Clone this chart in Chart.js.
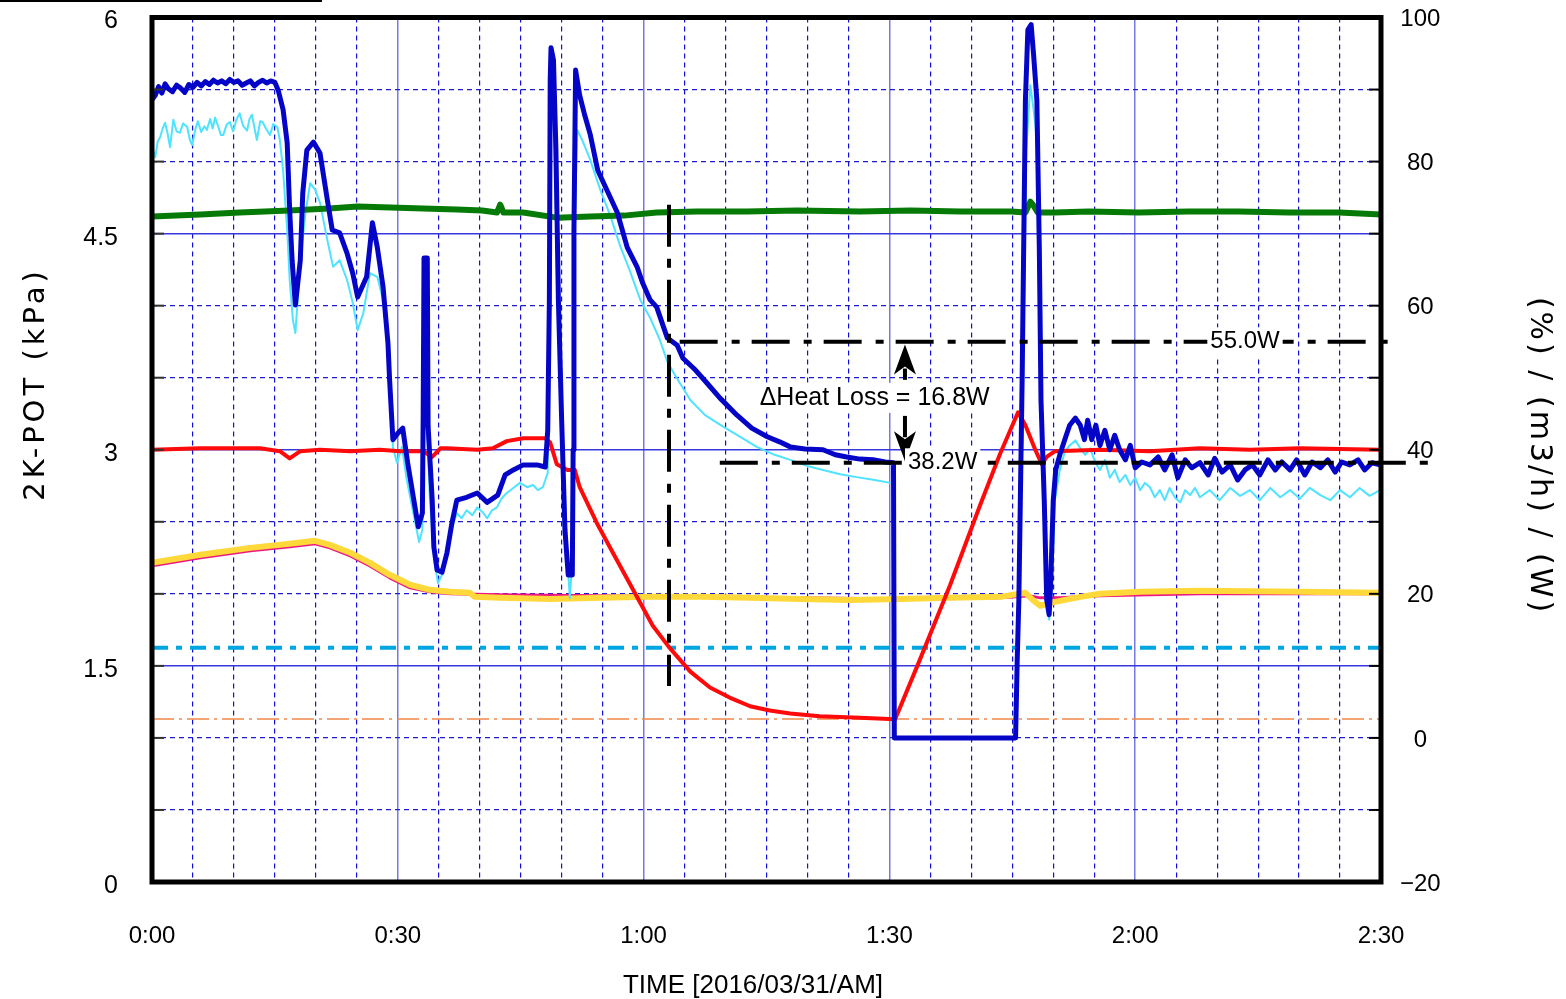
<!DOCTYPE html>
<html lang="ja">
<head>
<meta charset="UTF-8">
<title>2K-POT Heat Loss</title>
<script src="https://cdn.jsdelivr.net/npm/chart.js"></script>
<style>
  html, body { margin: 0; padding: 0; background: #fff; }
  #wrap { position: relative; width: 1566px; height: 999px; }
  #cornerLine { position: absolute; left: 0; top: 0; width: 322px; height: 2px; background: #000; }
</style>
</head>
<body>
<div id="wrap">
  <canvas id="chart"></canvas>
  <div id="cornerLine"></div>
</div>
<script>
// time in minutes from 0:00
const xTickLabels = ['0:00', '0:30', '1:00', '1:30', '2:00', '2:30'];
const leftTickLabels = ['0', '1.5', '3', '4.5', '6'];

// heater power (W, right axis) - thick blue
const blueT = [0,0.4,0.8,1.2,1.6,2.0,2.5,3.0,3.5,4.0,4.5,5.0,5.5,6.0,6.5,7.0,7.5,8.0,8.5,9.0,9.5,10.0,10.5,11.0,11.5,12.0,12.5,13.0,13.5,14.0,14.5,15.0,
  15.4,16.0,16.5,16.8,17.1,17.5,18.1,18.4,18.9,19.7,20.5,21.4,22.0,22.9,23.8,24.5,25.1,26.2,26.9,27.5,
  28.2,28.8,29.0,29.4,30.0,30.6,31.2,31.9,32.5,33.0,33.1,33.2,33.6,33.7,34.2,34.4,34.8,35.4,36.0,36.6,
  37.2,38.4,39.7,40.9,42.2,43.1,44.1,45.3,47.0,48.0,48.3,48.5,48.6,48.7,49.0,49.3,49.6,50.0,50.4,50.8,
  51.3,51.4,51.5,51.7,52.2,52.8,53.5,54.4,55.5,56.8,58.0,59.2,59.9,60.8,61.6,62.9,64.1,64.8,66.3,67.7,
  69.3,71.4,73.2,75.1,76.6,77.9,79.7,81.9,83.4,84.8,86.4,88.0,89.5,90.5,90.6,
  105.4,105.6,105.8,106.2,106.6,106.9,107.3,107.6,108.0,108.3,108.5,108.9,109.2,109.5,109.7,110.0,110.3,110.8,111.4,112.0,
  112.7,113.3,113.8,114.2,114.7,115.2,115.7,116.3,116.9,117.5,118.1,118.8,119.4,120.0,120.8,121.8,122.8,123.6,124.5,125.2,
  126.1,126.9,127.9,128.9,129.7,130.6,131.6,132.5,133.4,134.3,135.2,136.2,137.1,137.9,138.9,139.7,140.7,141.6,142.6,143.5,
  144.4,145.2,146.2,147.2,148.0,148.9,149.9];
const blueW = [88.6,89.2,90.4,89.5,90.8,90.1,89.7,90.6,90.2,89.6,90.7,90.3,91.0,90.5,91.1,90.7,91.3,90.9,91.2,90.8,91.4,91.0,91.2,90.6,90.9,91.2,90.5,91.0,91.3,90.9,91.2,91.0,
  89.9,87.2,82.6,73.3,66.3,60.1,66.3,75.6,81.6,82.7,81.2,74.7,70.5,70.1,67.3,64.5,61.2,64.0,71.5,68.1,
  62.6,54.8,49.7,41.4,42.3,43.0,38.2,33.4,29.3,31.2,45.1,66.6,66.6,43.2,33.0,26.5,23.3,23.0,25.7,29.8,
  33.0,33.4,34.0,32.7,33.7,36.5,37.2,37.9,37.9,37.6,42.7,60.8,91.3,95.8,94.1,81.6,60.8,44.1,28.9,22.6,
  22.6,40.0,70.5,92.7,89.2,86.5,83.7,78.8,76.1,72.9,68.1,65.4,63.1,60.8,59.8,55.5,54.5,52.7,51.1,49.3,
  47.2,44.8,43.0,41.8,41.1,40.4,40.1,40.0,39.3,39.0,38.7,38.6,38.3,38.2,0,
  0,10.8,19.2,49.7,88.5,98.3,99.0,94.8,88.5,67.7,46.9,33.0,19.2,17.1,21.9,33.0,37.2,39.3,41.4,43.4,
  44.4,43.4,41.4,44.1,41.4,43.4,40.6,42.7,40.0,42.0,40.0,38.6,40.6,37.5,38.3,37.9,39.0,37.2,39.3,36.1,
  38.6,37.5,38.2,36.5,38.8,36.9,37.9,35.8,37.2,37.9,36.5,38.6,37.2,38.3,37.2,38.6,36.5,38.3,37.5,38.6,
  36.9,38.3,37.9,38.6,37.2,38.2,37.9];

// second power trace (W, right axis) - thin cyan, null = no data
const cyanT = [0,0.4,0.7,1.0,1.3,1.6,1.9,2.2,2.6,3.0,3.4,3.8,4.3,4.6,4.9,5.3,5.6,6.0,6.4,6.7,
  7.1,7.4,7.7,8.1,8.4,8.7,9.1,9.5,9.9,10.3,10.7,11.1,11.6,11.9,12.2,12.5,12.8,13.2,13.5,13.9,14.4,14.8,15.3,15.6,
  16.0,16.5,16.8,17.2,17.5,18.1,18.7,19.3,19.9,20.5,21.4,22.1,22.9,23.8,24.5,25.1,25.8,26.6,27.5,28.2,
  28.8,29.4,29.9,30.5,31.1,31.9,32.6,33.0,33.2,33.6,33.9,34.5,34.9,35.5,36.4,37.2,37.8,38.4,39.1,39.7,
  40.3,40.9,41.5,42.1,42.7,43.3,44.1,44.9,45.8,46.5,47.1,47.7,48.3,48.6,48.7,49.0,49.6,50.2,50.7,51.0,
  51.3,51.5,51.9,52.5,53.5,54.7,55.9,57.1,58.3,59.6,60.8,62.0,62.9,63.8,65.7,67.5,69.7,71.8,73.8,76.0,
  77.9,80.1,81.9,84.0,86.0,88.2,90.1,98.0,
  106.2,106.7,107.2,107.6,108.0,108.3,108.6,109.1,109.5,109.8,110.2,110.8,111.4,112.0,112.7,113.3,113.9,114.5,115.1,115.7,
  116.3,116.9,117.5,118.1,118.8,119.4,120.0,120.6,121.2,121.8,122.4,123.0,123.6,124.2,124.9,125.5,126.1,126.7,127.3,127.9,
  129.1,130.3,131.6,132.8,134.0,135.2,136.5,137.7,138.9,140.1,141.3,142.6,143.8,145.0,146.2,147.4,148.6,149.9];
const cyanW = [82.0,80.6,82.8,83.4,84.6,85.4,83.9,82.0,85.8,84.2,84.0,85.3,84.8,83.1,82.3,84.5,85.6,84.1,84.9,84.4,
  85.9,84.6,86.1,84.8,83.7,83.7,85.1,85.5,84.2,85.8,86.7,85.0,84.3,85.9,86.5,84.7,83.0,85.6,85.5,84.6,83.7,85.2,84.8,83.0,
  78.8,70.5,63.6,58.0,56.2,66.1,72.6,77.0,76.1,74.3,69.1,65.4,66.3,63.6,60.4,56.6,59.0,64.5,64.0,60.8,
  54.3,40.4,38.2,40.4,35.8,31.2,27.2,28.9,44.1,42.7,33.4,24.3,21.5,22.9,28.4,31.2,30.5,31.6,30.9,32.0,
  31.4,30.5,31.6,32.0,33.3,34.0,34.7,35.4,34.8,35.1,34.4,34.8,36.8,75.0,87.2,85.8,60.8,40.0,24.7,19.4,
  24.7,67.7,84.4,83.0,80.2,76.1,72.6,68.4,64.9,60.8,58.3,55.2,52.2,50.4,46.9,44.8,43.2,41.8,40.4,39.3,
  38.6,37.7,37.2,36.6,36.2,35.8,35.4,null,
  40.0,81.6,90.6,87.2,83.0,60.8,40.0,23.3,16.4,20.5,33.0,37.2,39.7,40.6,41.3,40.2,39.3,40.2,38.3,37.2,
  38.6,36.1,37.2,35.5,36.5,35.1,36.1,34.4,35.4,34.8,33.4,34.4,33.0,34.7,33.3,32.7,34.4,33.7,34.7,33.4,
  34.4,33.0,34.7,33.6,34.4,33.0,34.7,33.4,34.4,33.2,34.7,33.7,33.0,34.4,33.4,34.7,33.6,34.4];

// red trace (left axis)
const redT = [0,5.9,13.2,15.6,16.8,18.1,20.5,24.2,27.8,30.3,33.1,34.2,35.2,36.0,39.7,41.6,43.3,45.3,48.0,48.6,
  49.4,50.7,51.6,52.2,54.3,56.3,58.7,61.1,63.1,65.7,68.1,70.5,73.0,75.4,77.9,81.5,86.4,90.7,
  93.7,97.4,101.1,103.5,105.7,106.6,107.8,108.6,109.2,110.2,115.7,121.8,127.9,134.0,140.1,149.9];
const redV = [3.00,3.01,3.01,2.99,2.94,2.99,3.00,2.99,3.00,2.99,2.99,2.95,3.01,3.01,3.00,3.01,3.06,3.08,3.08,3.05,
  2.90,2.86,2.86,2.74,2.49,2.28,2.03,1.78,1.63,1.46,1.35,1.28,1.22,1.19,1.17,1.15,1.14,1.13,
  1.54,2.06,2.62,2.97,3.26,3.17,3.00,2.90,2.95,2.99,3.00,2.99,3.01,3.00,3.01,3.00];

// 2K-POT pressure (kPa, left axis) - green
const greenT = [0,5.9,10.7,16.8,21.6,25.1,29.1,33.1,37.2,40.3,42.1,42.5,42.9,45.3,49.4,53.5,57.6,61.6,66.5,72.6,
  78.7,86.4,92.6,98.7,104.9,106.6,107.2,107.6,108.1,110.2,114.3,120.4,126.5,132.6,138.8,144.9,150];
const greenV = [4.618,4.632,4.646,4.660,4.674,4.688,4.681,4.674,4.667,4.660,4.646,4.701,4.646,4.646,4.611,4.618,4.625,4.646,4.653,4.653,
  4.660,4.653,4.660,4.653,4.653,4.646,4.722,4.694,4.646,4.646,4.653,4.646,4.653,4.653,4.646,4.646,4.632];

// yellow and magenta traces (left axis)
const yellowT = [0,5.9,12.0,16.8,19.9,21.7,24.2,26.6,29.0,31.5,33.9,36.4,38.8,39.4,42.5,48.6,54.7,60.8,66.9,73.0,
  79.1,85.2,91.3,97.4,103.5,105.9,106.6,107.5,108.4,109.2,110.8,113.3,115.7,120.6,127.9,140.1,149.9];
const yellowV = [2.215,2.271,2.319,2.347,2.368,2.340,2.285,2.215,2.132,2.063,2.028,2.014,2.007,1.979,1.972,1.965,1.972,1.979,1.979,1.972,
  1.965,1.958,1.965,1.972,1.979,2.000,2.007,1.958,1.917,1.931,1.951,1.979,2.000,2.014,2.021,2.014,2.007];
const magentaT = [0,5.9,12.0,16.8,19.9,21.7,24.2,26.6,29.0,31.5,33.9,36.4,42.5,54.7,66.9,79.1,91.3,103.5,107.2,108.4,
  110.8,115.7,127.9,140.1,149.9];
const magentaV = [2.194,2.250,2.299,2.326,2.347,2.319,2.264,2.194,2.111,2.042,2.014,2.000,1.993,1.986,1.979,1.972,1.965,1.972,1.986,1.972,
  1.972,1.986,2.000,2.000,2.000];

// constant reference lines (left axis)
const cyanRefLevel = 1.625;
const orangeRefLevel = 1.132;

// heat loss annotation (W, right axis)
const heatHigh = 55.0;
const heatLow = 38.2;
const markerT = 63.1;            // vertical dash-dot marker
const markerSpan = [4.70, 1.36]; // left axis
const highLineT = [64.4, 152.1];
const lowLineT = [69.3, 157.0];
const arrowT = 91.9;
const arrowUp = [49.7, 54.6];
const arrowDown = [44.7, 38.4];
const heatLabel = { t: 88.2, v: 47.2, text: 'ΔHeat Loss = 16.8W' };
const highLabel = { t: 133.4, v: heatHigh, text: '55.0W' };
const lowLabel = { t: 96.5, v: heatLow, text: '38.2W' };

const pts = (ts, vs) => ts.map((t, i) => ({ x: t, y: vs[i] }));
const FONT = 'Liberation Sans, Arial, sans-serif';
const WIDE = 'DejaVu Sans, Liberation Sans, sans-serif';

function line(ctx, x1, y1, x2, y2) {
  ctx.beginPath(); ctx.moveTo(x1, y1); ctx.lineTo(x2, y2); ctx.stroke();
}
function boxLabel(ctx, text, x, y, size) {
  ctx.font = size + 'px ' + FONT;
  const w = ctx.measureText(text).width;
  ctx.fillStyle = '#fff';
  ctx.fillRect(x - w / 2 - 3, y - size * 0.6, w + 6, size * 1.2);
  ctx.fillStyle = '#000';
  ctx.textAlign = 'center';
  ctx.textBaseline = 'middle';
  ctx.fillText(text, x, y);
}
function arrow(ctx, x, yFrom, yTip) {
  const dir = yTip < yFrom ? 1 : -1;   // 1 = pointing up
  const head = 30;
  ctx.lineWidth = 4;
  line(ctx, x, yFrom, x, yTip + dir * (head - 6));
  ctx.beginPath();
  ctx.moveTo(x, yTip);
  ctx.lineTo(x - 11, yTip + dir * head);
  ctx.lineTo(x, yTip + dir * (head - 8));
  ctx.lineTo(x + 11, yTip + dir * head);
  ctx.closePath();
  ctx.fill();
}
function vTitle(ctx, text, x, y, angle, size, spacing) {
  ctx.save();
  ctx.fillStyle = '#000';
  ctx.textAlign = 'center';
  ctx.textBaseline = 'middle';
  ctx.font = size + 'px ' + WIDE;
  ctx.letterSpacing = spacing + 'px';
  ctx.translate(x, y);
  ctx.rotate(angle);
  ctx.fillText(text, 0, 0);
  ctx.restore();
}

const overlay = {
  id: 'overlay',
  afterDatasetsDraw(chart) {
    const { ctx, chartArea: a, scales } = chart;
    const xs = scales.x, yL = scales.y, yR = scales.yR;
    ctx.save();
    // inward tick marks
    ctx.strokeStyle = '#000';
    ctx.lineWidth = 2;
    yR.ticks.forEach(t => { const y = yR.getPixelForValue(t.value); line(ctx, a.right - 12, y, a.right, y); });
    ctx.strokeStyle = '#333';
    yL.ticks.forEach(t => { const y = yL.getPixelForValue(t.value); line(ctx, a.left, y, a.left + 12, y); });
    // frame
    ctx.strokeStyle = '#000';
    ctx.lineWidth = 5;
    ctx.strokeRect(a.left, a.top, a.right - a.left, a.bottom - a.top);
    // arrows
    ctx.fillStyle = '#000';
    const ax = xs.getPixelForValue(arrowT);
    arrow(ctx, ax, yR.getPixelForValue(arrowUp[0]), yR.getPixelForValue(arrowUp[1]));
    arrow(ctx, ax, yR.getPixelForValue(arrowDown[0]), yR.getPixelForValue(arrowDown[1]));
    // labels
    [heatLabel, highLabel, lowLabel].forEach((l, i) => {
      boxLabel(ctx, l.text, xs.getPixelForValue(l.t), yR.getPixelForValue(l.v), i === 0 ? 25 : 24);
    });
    ctx.restore();
  },
  afterDraw(chart) {
    const { ctx } = chart;
    vTitle(ctx, '2K-POT (kPa)', 36, 384, -Math.PI / 2, 29, 4);
    vTitle(ctx, '(%) / (m3/h) / (W)', 1539, 456, Math.PI / 2, 30, 3);
    ctx.save();
    ctx.fillStyle = '#000';
    ctx.textAlign = 'center';
    ctx.textBaseline = 'middle';
    ctx.font = '26px ' + FONT;
    ctx.fillText('TIME [2016/03/31/AM]', 753, 986);
    ctx.restore();
  }
};

const lineDs = (label, data, color, width, axis, extra) => Object.assign({
  label, data, borderColor: color, borderWidth: width, yAxisID: axis,
  pointRadius: 0, tension: 0, fill: false, spanGaps: false, borderJoinStyle: 'round'
}, extra || {});

const isMult = (v, m) => Math.abs(v / m - Math.round(v / m)) < 1e-6;
const noPad = s => { s.paddingTop = 0; s.paddingBottom = 0; s.paddingLeft = 0; s.paddingRight = 0; };

new Chart(document.getElementById('chart'), {
  type: 'line',
  data: {
    datasets: [
      lineDs('marker', [{ x: markerT, y: markerSpan[0] }, { x: markerT, y: markerSpan[1] }], '#000', 4, 'y',
        { borderDash: [42, 12, 9, 12], clip: false, borderJoinStyle: 'miter' }),
      lineDs('55.0W', [{ x: highLineT[0], y: heatHigh }, { x: highLineT[1], y: heatHigh }], '#000', 4, 'yR',
        { borderDash: [38, 14, 8, 12], clip: false }),
      lineDs('38.2W', [{ x: lowLineT[0], y: heatLow }, { x: lowLineT[1], y: heatLow }], '#000', 4, 'yR',
        { borderDash: [38, 14, 8, 12], clip: false }),
      lineDs('heater', pts(blueT, blueW), '#0505c8', 5, 'yR'),
      lineDs('red', pts(redT, redV), '#ff0a0a', 4, 'y'),
      lineDs('2K-POT', pts(greenT, greenV), '#067a06', 6, 'y'),
      lineDs('cyan', pts(cyanT, cyanW), '#4fe3ff', 2, 'yR'),
      lineDs('yellow', pts(yellowT, yellowV), '#ffd83a', 6, 'y'),
      lineDs('magenta', pts(magentaT, magentaV), '#ee1680', 3, 'y'),
      lineDs('ref1', [{ x: 0, y: cyanRefLevel }, { x: 150, y: cyanRefLevel }], '#00a6e2', 4, 'y',
        { borderDash: [16, 8, 6, 8] }),
      lineDs('ref2', [{ x: 0, y: orangeRefLevel }, { x: 150, y: orangeRefLevel }], '#f08848', 1.5, 'y',
        { borderDash: [22, 5, 3, 5] })
    ]
  },
  options: {
    responsive: true,
    maintainAspectRatio: false,
    animation: false,
    events: [],
    layout: { padding: { top: 17.5, left: 0, right: 0, bottom: 0 } },
    plugins: { legend: { display: false }, tooltip: { enabled: false } },
    scales: {
      x: {
        type: 'linear', min: 0, max: 150,
        afterFit: s => { noPad(s); s.height = 117; },
        border: { display: false, dash: c => isMult(c.tick.value, 30) ? [] : [5, 4] },
        grid: {
          drawTicks: false,
          color: c => isMult(c.tick.value, 30) ? '#7878e4' : '#1010d8',
          lineWidth: c => isMult(c.tick.value, 30) ? 1.5 : 1.2
        },
        ticks: {
          stepSize: 5, autoSkip: false, maxRotation: 0, padding: 40, color: '#000',
          font: { family: FONT, size: 24 },
          callback: v => isMult(v, 30) ? xTickLabels[Math.round(v / 30)] : ''
        }
      },
      y: {
        position: 'left', min: 0, max: 6,
        afterFit: s => { noPad(s); s.width = 152; },
        border: { display: false, dash: c => isMult(c.tick.value, 1.5) ? [] : [5, 4] },
        grid: {
          drawTicks: false,
          color: c => isMult(c.tick.value, 1.5) ? '#3838e0' : '#1c1cd0',
          lineWidth: c => isMult(c.tick.value, 1.5) ? 1.5 : 1.2
        },
        ticks: {
          stepSize: 0.5, padding: 34, color: '#000', labelOffset: 4,
          font: { family: FONT, size: 25 },
          callback: v => isMult(v, 1.5) ? leftTickLabels[Math.round(v / 1.5)] : ''
        }
      },
      yR: {
        position: 'right', min: -20, max: 100,
        afterFit: s => { noPad(s); s.width = 185; },
        border: { display: false },
        grid: { drawOnChartArea: false, drawTicks: false },
        ticks: {
          stepSize: 10, padding: 19, color: '#000', crossAlign: 'center', labelOffset: 2,
          font: { family: FONT, size: 24 },
          callback: v => isMult(v, 20) ? String(v).replace('-', '\u2212') : ''
        }
      }
    }
  },
  plugins: [overlay]
});
</script>
</body>
</html>
